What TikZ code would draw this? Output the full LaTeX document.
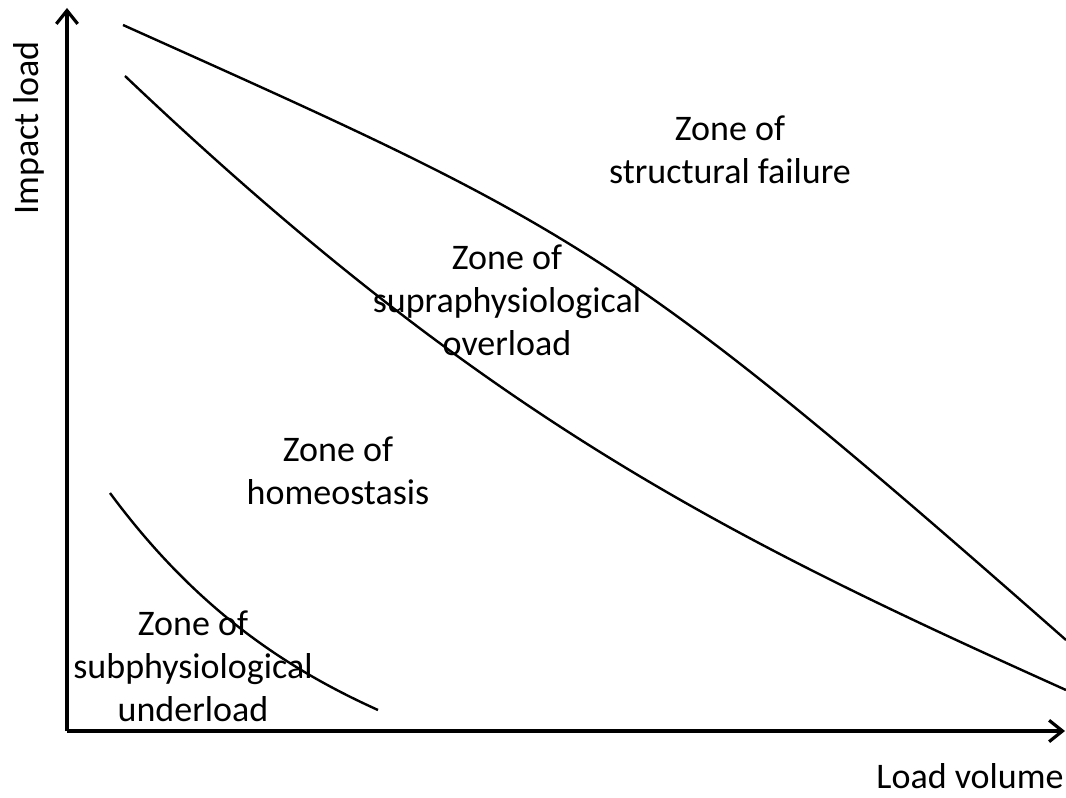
\documentclass[tikz,border=0pt]{standalone}
\usepackage{fontspec}
\setmainfont{Carlito}
\usetikzlibrary{arrows.meta}

\begin{document}
\begin{tikzpicture}[x=0.75pt,y=-0.75pt,>={Straight Barb[length=10pt,width=16pt]},
    axis line/.style={line width=2.4pt},
    boundary/.style={line width=1.8pt},
    zone label/.style={align=center,font=\fontsize{27}{32.25}\selectfont,inner sep=0pt}]
            \useasboundingbox (0,0) rectangle (1066,798);

            % axes
            \coordinate (o) at (67,731);
            \coordinate (ytip) at (67,8);
            \coordinate (xtip) at (1065,731);
            \draw[axis line,->] (o) -- (ytip);
            \draw[axis line,->] (o) -- (xtip);
            \node[zone label,rotate=90] (ylab) at (29,128) {Impact load};
            \node[zone label] (xlab) at (970,776) {Load volume};

            % zone boundaries
            \coordinate (u1) at (123,25);
            \coordinate (u2) at (1066,640);
            \coordinate (m1) at (125,76);
            \coordinate (m2) at (1066,690);
            \coordinate (l1) at (110,493);
            \coordinate (l2) at (378,710);
            \draw[boundary] (u1) .. controls (573,227) and (616,244) .. (u2);
            \draw[boundary] (m1) .. controls (485,418) and (726,537) .. (m2);
            \draw[boundary] (l1) .. controls (195,608) and (285,668) .. (l2);

            % zones
            \node[zone label] (sf) at (730,150) {Zone of\\structural failure};
            \node[zone label] (so) at (507,300) {Zone of\\supraphysiological\\overload};
            \node[zone label] (ho) at (338,471) {Zone of\\homeostasis};
            \node[zone label] (su) at (193,666) {Zone of\\subphysiological\\underload};
        \end{tikzpicture}
\end{document}
